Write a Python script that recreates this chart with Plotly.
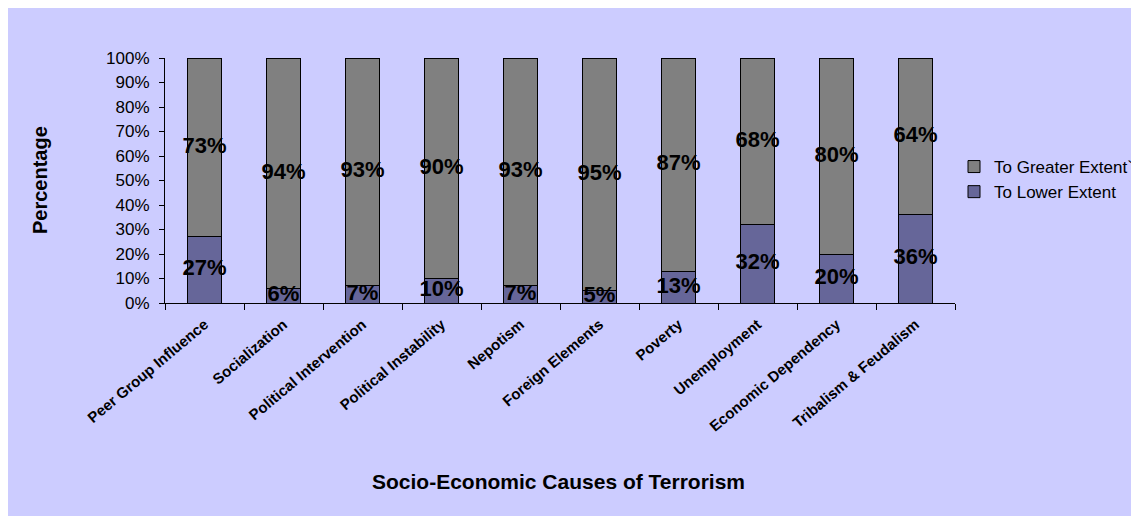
import plotly.graph_objects as go

categories = ["Peer Group Influence", "Socialization", "Political Intervention",
              "Political Instability", "Nepotism", "Foreign Elements", "Poverty",
              "Unemployment", "Economic Dependency", "Tribalism & Feudalism"]
lower_extent = [27, 6, 7, 10, 7, 5, 13, 32, 20, 36]
greater_extent = [73, 94, 93, 90, 93, 95, 87, 68, 80, 64]
y_ticks = [0, 10, 20, 30, 40, 50, 60, 70, 80, 90, 100]

FONT = "Arial, Liberation Sans, sans-serif"
BG = "#CCCCFF"

# the page body has an 8px margin at top/left; figure runs past the window edge
W, H = 1139, 516
L, T = 157, 50
pw, ph = 790, 245
R, B = W - L - pw, H - T - ph


def px_x(x):
    return (x - L) / pw


def px_y(y):
    return (T + ph - y) / ph


fig = go.Figure()
fig.add_trace(go.Bar(
    x=categories, y=lower_extent, name="To Lower Extent",
    marker=dict(color="#666699", line=dict(color="black", width=1)),
    width=0.42, legendrank=2, hoverinfo="skip"))
fig.add_trace(go.Bar(
    x=categories, y=greater_extent, name="To Greater Extent`",
    marker=dict(color="#808080", line=dict(color="black", width=1)),
    width=0.42, legendrank=1, hoverinfo="skip"))

# value labels centred on each segment
lower_mid = [v / 2 for v in lower_extent]
greater_mid = [lo + g / 2 for lo, g in zip(lower_extent, greater_extent)]
fig.add_trace(go.Scatter(
    x=categories + categories, y=lower_mid + greater_mid, mode="text",
    text=[f"{v}%" for v in lower_extent] + [f"{v}%" for v in greater_extent],
    textfont=dict(family=FONT, size=22, color="#000000", weight="bold"),
    textposition="middle center", showlegend=False, hoverinfo="skip"))

fig.update_layout(
    width=W, height=H, barmode="stack",
    paper_bgcolor=BG, plot_bgcolor=BG,
    margin=dict(l=L, r=R, t=T, b=B, autoexpand=False),
    font=dict(family=FONT, size=17, color="black"),
    legend=dict(x=px_x(946), y=px_y(141), xanchor="left", yanchor="top",
                traceorder="normal", tracegroupgap=0,
                font=dict(family=FONT, size=17, color="black"),
                bgcolor="rgba(0,0,0,0)", itemwidth=30),
    showlegend=True,
)
fig.update_xaxes(
    type="category", tickangle=-40, range=[-0.5, 9.5],
    tickfont=dict(family=FONT, size=15, color="black", weight="bold"),
    ticks="outside", tickson="boundaries", ticklen=6, tickcolor="black",
    ticklabelstandoff=6,
    showline=True, linecolor="black", linewidth=1, showgrid=False)
fig.update_yaxes(
    range=[0, 100], tickvals=y_ticks, ticktext=[f"{v}%" for v in y_ticks],
    tickfont=dict(family=FONT, size=17, color="black"),
    ticks="outside", ticklen=5, tickcolor="black", ticklabelstandoff=6,
    showline=True, linecolor="black", linewidth=1, showgrid=False, zeroline=False)

fig.add_annotation(text="Socio-Economic Causes of Terrorism", xref="paper", yref="paper",
                   x=px_x(550), y=px_y(474), showarrow=False,
                   xanchor="center", yanchor="middle",
                   font=dict(family=FONT, size=21, color="black", weight="bold"))
fig.add_annotation(text="Percentage", xref="paper", yref="paper",
                   x=px_x(32), y=px_y(172), showarrow=False, textangle=-90,
                   xanchor="center", yanchor="middle",
                   font=dict(family=FONT, size=20, color="black", weight="bold"))

fig.write_html("out.html")
